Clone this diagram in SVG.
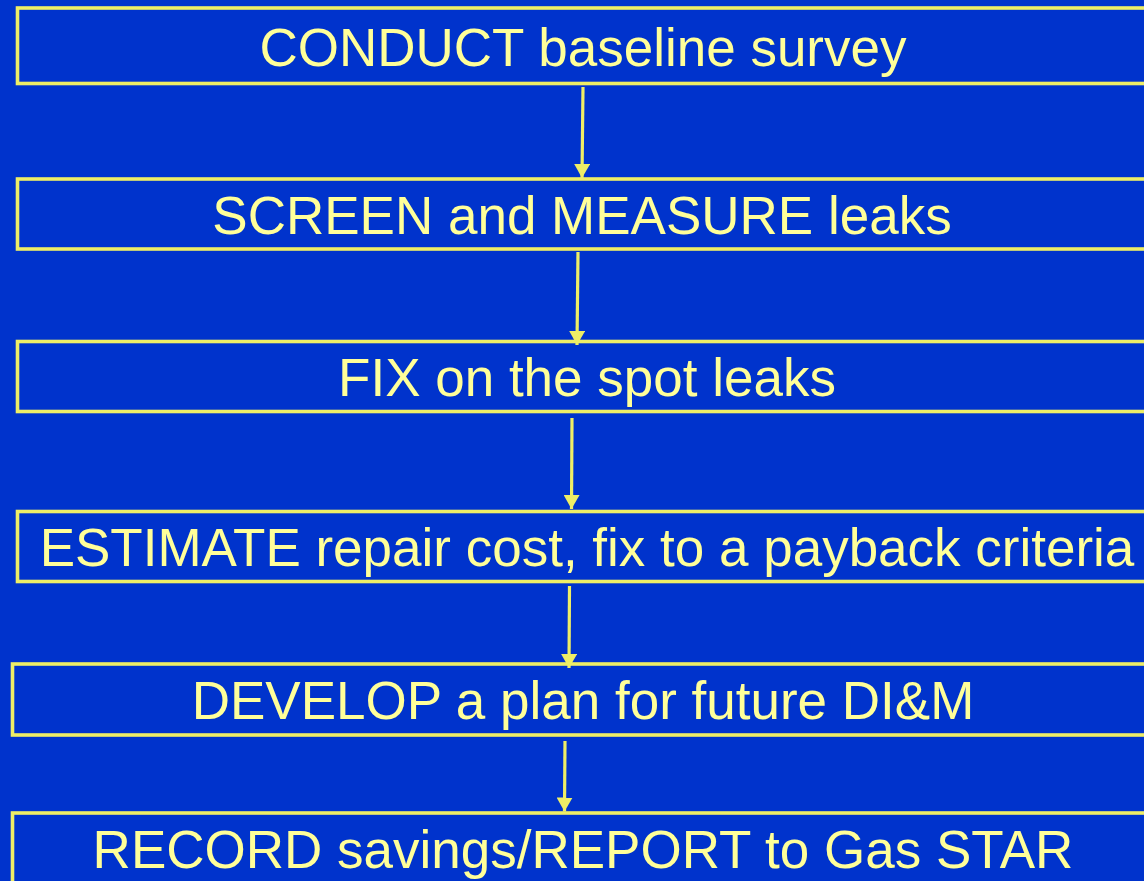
<svg xmlns="http://www.w3.org/2000/svg" width="1144" height="881" viewBox="0 0 1144 881">
<style>
.box{fill:none;stroke:#EEEE66;stroke-width:3.6}
.lbl{font-family:"Liberation Sans",Arial,sans-serif;font-size:53px;fill:#FFFF99;text-anchor:middle}
.con{stroke:#EEEE66;stroke-width:3.2;fill:none}
</style>
<defs>
<marker id="ah" markerUnits="userSpaceOnUse" markerWidth="14" markerHeight="16" viewBox="0 0 14 16" refX="14" refY="8" orient="auto">
<path d="M0,0 L14,8 L0,16 z" fill="#EEEE66"/>
</marker>
</defs>
<rect width="1144" height="881" fill="#0033CC"/>
<g id="n1"><rect class="box" x="17.5" y="8" width="1140" height="75.5"/><text class="lbl" x="583" y="66">CONDUCT baseline survey</text></g>
<g id="n2"><rect class="box" x="17.5" y="179" width="1140" height="70"/><text class="lbl" x="582" y="234">SCREEN and MEASURE leaks</text></g>
<g id="n3"><rect class="box" x="17.5" y="341.5" width="1140" height="70"/><text class="lbl" x="587" y="396">FIX on the spot leaks</text></g>
<g id="n4"><rect class="box" x="17.5" y="511.5" width="1140" height="70"/><text class="lbl" x="587" y="566">ESTIMATE repair cost, fix to a payback criteria</text></g>
<g id="n5"><rect class="box" x="12.5" y="664" width="1145" height="71"/><text class="lbl" x="583" y="719">DEVELOP a plan for future DI&amp;M</text></g>
<g id="n6"><rect class="box" x="12.5" y="813" width="1145" height="80"/><text class="lbl" x="583" y="868">RECORD savings/REPORT to Gas STAR</text></g>
<g id="connectors">
<path class="con" d="M583,87 L582,178" marker-end="url(#ah)"/>
<path class="con" d="M578,252 L577,345" marker-end="url(#ah)"/>
<path class="con" d="M572,418 L571.5,509" marker-end="url(#ah)"/>
<path class="con" d="M569.5,586 L569,668" marker-end="url(#ah)"/>
<path class="con" d="M565,741 L564.5,811.5" marker-end="url(#ah)"/>
</g>
</svg>
